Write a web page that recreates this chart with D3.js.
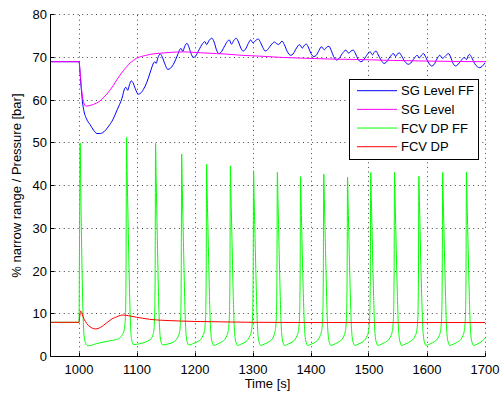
<!DOCTYPE html>
<html>
<head>
<meta charset="utf-8">
<script src="https://cdn.jsdelivr.net/npm/d3@7"></script>
<style>
  html, body { margin: 0; padding: 0; background: #fff; }
  svg { display: block; font-family: "Liberation Sans", Arial, Helvetica, sans-serif; }
</style>
</head>
<body>
<svg id="chart" width="504" height="393"></svg>
<script>
// ---- data: [time s, value] ----
const sgLevelFF = [
  [950,69.0],[1000,69.0],[1002,66.0],[1004,62.5],[1006,59.6],[1008,57.8],[1013,55.6],[1019,54.3],
  [1025,53.0],[1031,52.2],[1037,52.2],[1043,52.6],[1050,53.7],[1059,55.6],[1066,57.8],[1074,60.4],
  [1079,62.8],[1081,63.0],[1084,62.3],[1087,63.6],[1090,64.5],[1093,64.1],[1097,62.7],[1102,61.4],
  [1106,61.6],[1111,62.5],[1117,64.2],[1123,66.6],[1129,68.8],[1131,69.0],[1133,68.6],[1136,69.9],
  [1140,70.8],[1143,70.3],[1148,68.5],[1153,67.2],[1158,67.5],[1164,68.7],[1170,70.6],[1174,71.9],
  [1176,72.1],[1179,71.4],[1182,72.5],[1186,73.3],[1189,72.6],[1193,71.0],[1197,70.0],[1201,70.3],
  [1207,71.8],[1213,73.2],[1217,73.7],[1220,73.0],[1224,73.9],[1229,74.5],[1233,73.6],[1237,71.8],
  [1241,70.9],[1245,71.2],[1250,72.4],[1256,73.8],[1259,74.1],[1263,73.1],[1267,74.0],[1271,74.5],
  [1275,73.6],[1279,72.2],[1283,71.5],[1287,71.9],[1292,73.3],[1296,74.1],[1300,73.4],[1304,73.9],
  [1309,74.3],[1313,73.5],[1317,72.3],[1321,71.5],[1325,71.8],[1331,72.9],[1337,73.6],[1340,73.3],
  [1344,73.0],[1350,73.8],[1354,73.0],[1359,71.4],[1365,70.5],[1369,70.8],[1375,72.2],[1380,73.0],
  [1385,72.2],[1389,72.9],[1392,73.1],[1396,72.2],[1400,70.9],[1405,70.2],[1409,70.5],[1414,71.7],
  [1418,72.5],[1423,71.8],[1427,72.4],[1431,72.6],[1435,71.6],[1439,70.2],[1444,69.4],[1448,69.7],
  [1454,70.9],[1460,71.7],[1465,71.0],[1469,71.5],[1473,71.7],[1477,70.8],[1481,69.6],[1486,69.0],
  [1490,69.3],[1496,70.5],[1502,71.3],[1506,70.6],[1509,71.2],[1512,71.5],[1516,70.6],[1521,69.3],
  [1526,68.6],[1530,68.9],[1536,70.1],[1542,70.9],[1546,70.2],[1549,70.8],[1552,71.1],[1556,70.4],
  [1562,69.0],[1568,68.4],[1572,68.7],[1578,69.8],[1583,70.5],[1587,69.9],[1591,70.6],[1594,70.9],
  [1598,70.0],[1603,68.7],[1608,68.0],[1612,68.3],[1617,69.6],[1622,70.5],[1627,69.8],[1632,70.4],
  [1637,70.9],[1641,70.0],[1645,68.6],[1649,68.0],[1653,68.3],[1659,69.3],[1664,70.0],[1668,69.5],
  [1671,70.4],[1673,70.7],[1677,70.0],[1682,68.6],[1687,67.8],[1691,67.6],[1695,67.9],[1700,68.7]
];

const sgLevel = [
  [950,69.0],[1000,69.0],[1002,66.5],[1004,63.2],[1006,60.8],[1008,59.5],[1012,58.6],[1020,58.8],
  [1030,59.3],[1036,59.8],[1042,60.6],[1048,61.4],[1053,62.3],[1059,63.4],[1065,64.7],[1071,65.9],
  [1077,67.0],[1082,67.8],[1088,68.7],[1094,69.3],[1099,69.8],[1110,70.3],[1122,70.7],[1140,71.0],
  [1160,71.2],[1180,71.3],[1209,71.1],[1237,70.9],[1252,70.8],[1280,70.5],[1312,70.3],[1350,70.0],
  [1390,69.8],[1440,69.6],[1484,69.5],[1540,69.3],[1600,69.15],[1650,69.05],[1700,69.0]
];

const fcvDpFF = [
  [950,8.0],[1000,8.0],[1001,30],[1002,50.0],[1003,40],[1005,22],[1007,10],[1009,4.5],[1012,3.0],
  [1016,2.5],[1030,3.0],[1050,3.6],[1065,4.0],[1071,4.4],[1075,5.2],[1078,6.3],[1080,9],[1081,18],[1082,51.3],
  [1083,43],[1085,29],[1087,16],[1088.5,8.5],[1090,4.8],[1092,3.3],[1094,2.8],[1105,3.0],[1115,3.4],
  [1122,3.9],[1126,4.5],[1128,5.3],[1129.5,6.8],[1130.5,10],[1131.3,20],[1132,49.9],
  [1133,42],[1135,28],[1137,15],[1138.5,8],[1140,4.6],[1142,3.2],[1144,2.7],[1155,3.0],[1163,3.4],
  [1168,4.0],[1171,4.7],[1173,5.5],[1174.5,7],[1175.5,10],[1176.3,20],[1177,47.4],
  [1178,40],[1180,27],[1182,15],[1183.5,8],[1185,4.6],[1187,3.2],[1189,2.7],[1198,3.1],[1206,3.6],
  [1211,4.2],[1214,5.0],[1216,5.8],[1217.5,7.5],[1218.5,10.5],[1219.3,20],[1220,45.0],
  [1221,38],[1223,26],[1225,14],[1226.5,7.5],[1228,4.5],[1230,3.2],[1232,2.6],[1240,3.0],[1247,3.5],
  [1252,4.1],[1255,4.9],[1257,5.8],[1258.5,7.5],[1259.5,10.5],[1260.3,20],[1261,44.6],
  [1262,38],[1264,26],[1266,14],[1267.5,7.5],[1269,4.5],[1271,3.2],[1273,2.6],[1281,3.0],[1288,3.5],
  [1292,4.1],[1295,4.9],[1297,5.8],[1298.5,7.5],[1299.5,10.5],[1300.3,20],[1301,43.5],
  [1302,37],[1304,25],[1306,14],[1307.5,7.5],[1309,4.5],[1311,3.2],[1313,2.6],[1321,3.0],[1328,3.5],
  [1333,4.1],[1336,4.9],[1338,5.8],[1339.5,7.5],[1340.5,10.5],[1341.3,20],[1342,43.1],
  [1343,37],[1345,25],[1347,14],[1348.5,7.5],[1350,4.5],[1352,3.2],[1354,2.6],[1362,3.0],[1369,3.5],
  [1373,4.1],[1376,4.9],[1378,5.8],[1379.5,7.5],[1380.5,10.5],[1381.3,20],[1382,42.1],
  [1383,36],[1385,24],[1387,13.5],[1388.5,7.5],[1390,4.5],[1392,3.2],[1394,2.6],[1402,3.0],[1409,3.5],
  [1413,4.1],[1416,4.9],[1418,5.8],[1419.5,7.5],[1420.5,10.5],[1421.3,20],[1422,42.7],
  [1423,37],[1425,25],[1427,14],[1428.5,7.5],[1430,4.5],[1432,3.2],[1434,2.6],[1442,3.0],[1449,3.5],
  [1454,4.1],[1457,4.9],[1459,5.8],[1460.5,7.5],[1461.5,10.5],[1462.3,20],[1463,42.0],
  [1464,36],[1466,24],[1468,13.5],[1469.5,7.5],[1471,4.5],[1473,3.2],[1475,2.6],[1483,3.0],[1490,3.5],
  [1494,4.1],[1497,4.9],[1499,5.8],[1500.5,7.5],[1501.5,10.5],[1502.3,20],[1503,43.1],
  [1504,37],[1506,25],[1508,14],[1509.5,7.5],[1511,4.5],[1513,3.2],[1515,2.6],[1523,3.0],[1530,3.5],
  [1535,4.1],[1538,4.9],[1540,5.8],[1541.5,7.5],[1542.5,10.5],[1543.3,20],[1544,43.1],
  [1545,37],[1547,25],[1549,14],[1550.5,7.5],[1552,4.5],[1554,3.2],[1556,2.6],[1564,3.0],[1572,3.6],
  [1577,4.2],[1580,5.0],[1582,5.8],[1583.5,7.5],[1584.5,10.5],[1585.3,20],[1586,42.2],
  [1587,36],[1589,24],[1591,13.5],[1592.5,7.5],[1594,4.5],[1596,3.2],[1598,2.6],[1606,3.0],[1613,3.5],
  [1618,4.1],[1621,4.9],[1623,5.8],[1624.5,7.5],[1625.5,10.5],[1626.3,20],[1627,43.1],
  [1628,37],[1630,25],[1632,14],[1633.5,7.5],[1635,4.5],[1637,3.2],[1639,2.6],[1647,3.0],[1654,3.5],
  [1659,4.1],[1662,4.9],[1664,5.8],[1665.5,7.5],[1666.5,10.5],[1667.3,20],[1668,43.2],
  [1669,37],[1671,25],[1673,14],[1674.5,7.5],[1676,4.5],[1678,3.2],[1680,2.6],[1688,3.0],[1695,3.6],
  [1700,4.3]
];

const fcvDp = [
  [950,8.0],[1000,8.0],[1001.5,9.6],[1003,10.65],[1005,10.1],[1007,9.3],[1011,8.2],[1016,7.3],
  [1022,6.7],[1029,6.45],[1037,6.8],[1047,7.8],[1057,8.8],[1065,9.3],[1071,9.6],[1076,9.7],
  [1085,9.55],[1099,9.2],[1110,8.95],[1122,8.7],[1140,8.5],[1157,8.4],[1175,8.3],[1200,8.2],
  [1250,8.1],[1300,8.0],[1400,7.95],[1700,7.95]
];

const seriesNames = ["SG Level FF", "SG Level", "FCV DP FF", "FCV DP"];
const seriesColors = ["#0000ff", "#ff00ff", "#00ff00", "#ff0000"];
const xTicks = [1000, 1100, 1200, 1300, 1400, 1500, 1600, 1700];
const yTicks = [0, 10, 20, 30, 40, 50, 60, 70, 80];

// ---- layout ----
const area = { left: 50, right: 485, top: 14.7, bottom: 356.5 };
const svg = d3.select("#chart");
const x = d3.scaleLinear().domain([950, 1700]).range([area.left, area.right]);
const y = d3.scaleLinear().domain([0, 80]).range([area.bottom, area.top]);
const snap = v => Math.round(v - 0.5) + 0.5;

svg.append("rect").attr("width", 504).attr("height", 393).attr("fill", "#fff");

// dotted grid
const grid = svg.append("g").attr("stroke", "#444").attr("stroke-width", 1)
  .attr("stroke-dasharray", "1,3.6").attr("fill", "none");
grid.selectAll("line.vx").data(xTicks).join("line")
  .attr("x1", d => snap(x(d))).attr("x2", d => snap(x(d)))
  .attr("y1", area.bottom).attr("y2", area.top);
grid.selectAll("line.hy").data(yTicks.filter(d => d > 0)).join("line")
  .attr("y1", d => snap(y(d))).attr("y2", d => snap(y(d)))
  .attr("x1", area.left).attr("x2", area.right);

// series
svg.append("clipPath").attr("id", "clip").append("rect")
  .attr("x", area.left).attr("y", area.top - 1)
  .attr("width", area.right - area.left + 1).attr("height", area.bottom - area.top + 1);

const line = d3.line().x(d => x(d[0])).y(d => y(d[1])).curve(d3.curveMonotoneX);
const allSeries = [sgLevelFF, sgLevel, fcvDpFF, fcvDp];
svg.append("g").attr("clip-path", "url(#clip)")
  .selectAll("path").data(allSeries).join("path")
  .attr("d", line)
  .attr("fill", "none")
  .attr("stroke", (d, i) => seriesColors[i])
  .attr("stroke-width", 1)
  .attr("stroke-linejoin", "round");

// axes (left and bottom only, inward ticks)
const axes = svg.append("g").attr("stroke", "#000").attr("stroke-width", 1).attr("fill", "none");
axes.append("path")
  .attr("d", `M${snap(area.left)},${area.top}V${snap(area.bottom)}H${area.right}`);
axes.selectAll("line.tx").data(xTicks).join("line")
  .attr("x1", d => snap(x(d))).attr("x2", d => snap(x(d)))
  .attr("y1", snap(area.bottom)).attr("y2", snap(area.bottom) - 4);
axes.selectAll("line.ty").data(yTicks).join("line")
  .attr("y1", d => snap(y(d))).attr("y2", d => snap(y(d)))
  .attr("x1", snap(area.left)).attr("x2", snap(area.left) + 4);

// tick labels
const fs = 13;
svg.append("g").selectAll("text").data(xTicks).join("text")
  .attr("x", d => x(d)).attr("y", 373.5)
  .attr("text-anchor", "middle").attr("font-size", fs).attr("fill", "#000")
  .text(d => d);
svg.append("g").selectAll("text").data(yTicks).join("text")
  .attr("x", 47).attr("y", d => y(d) + 4.6)
  .attr("text-anchor", "end").attr("font-size", fs).attr("fill", "#000")
  .text(d => d);

// axis titles
svg.append("text")
  .attr("x", (area.left + area.right) / 2).attr("y", 387.5)
  .attr("text-anchor", "middle").attr("font-size", fs).attr("fill", "#000")
  .text("Time [s]");
svg.append("text")
  .attr("transform", `translate(21,${(area.top + area.bottom) / 2}) rotate(-90)`)
  .attr("text-anchor", "middle").attr("font-size", fs).attr("fill", "#000")
  .text("% narrow range / Pressure [bar]");

// legend
const lg = svg.append("g");
lg.append("rect").attr("x", 349.5).attr("y", 79.5).attr("width", 129).attr("height", 80)
  .attr("fill", "#fff").attr("stroke", "#000").attr("stroke-width", 1);
const rowY = i => 90.7 + i * 18.67;
lg.selectAll("line").data(seriesNames).join("line")
  .attr("x1", 357).attr("x2", 397)
  .attr("y1", (d, i) => rowY(i)).attr("y2", (d, i) => rowY(i))
  .attr("stroke", (d, i) => seriesColors[i]).attr("stroke-width", 1);
lg.selectAll("text").data(seriesNames).join("text")
  .attr("x", 401).attr("y", (d, i) => rowY(i) + 4.6)
  .attr("font-size", fs).attr("fill", "#000")
  .text(d => d);
</script>
</body>
</html>
